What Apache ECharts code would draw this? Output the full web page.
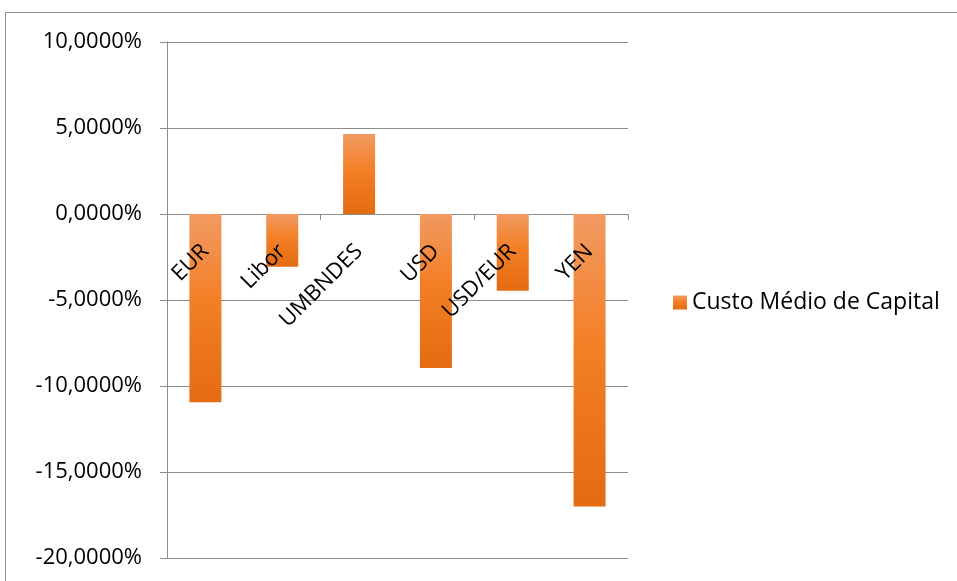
<!DOCTYPE html>
<html><head><meta charset="utf-8">
<script src="https://cdn.jsdelivr.net/npm/echarts@6/dist/echarts.min.js"></script>
<style>html,body{margin:0;padding:0;background:#fff}#c{width:957px;height:581px}</style>
</head><body><div id="c"></div>
<script>
const categories = ['EUR', 'Libor', 'UMBNDES', 'USD', 'USD/EUR', 'YEN'];
const seriesName = 'Custo Médio de Capital';
const values = [-10.95, -3.06, 4.65, -8.95, -4.46, -17.0];
const yMin = -20, yMax = 10, yStep = 5;

const FONT = 'Open Sans';
const chart = echarts.init(document.getElementById('c'));
chart.setOption({
  animation: false,
  backgroundColor: '#fff',
  graphic: [{ type: 'rect', shape: { x: 5.5, y: 12.5, width: 1000, height: 1000 }, style: { fill: 'none', stroke: '#8c8c8c', lineWidth: 1 }, silent: true }],
  grid: { left: 167, right: 329, top: 42, bottom: 23, containLabel: false, outerBoundsMode: 'none' },
  legend: {
    left: 668, top: 286, itemWidth: 14, itemHeight: 14, itemGap: 6,
    textStyle: { fontFamily: FONT, fontSize: 23, color: '#000' },
    data: [{ name: seriesName, icon: 'rect' }]
  },
  xAxis: {
    type: 'category', data: categories,
    axisLine: { onZero: true, lineStyle: { color: '#8c8c8c' } },
    axisTick: { show: true, length: 6, lineStyle: { color: '#8c8c8c' } },
    axisLabel: { show: false }
  },
  yAxis: {
    type: 'value', min: yMin, max: yMax, interval: yStep,
    axisLine: { show: true, lineStyle: { color: '#8c8c8c' } },
    axisTick: { show: true, length: 7, lineStyle: { color: '#8c8c8c' } },
    splitLine: { lineStyle: { color: '#8c8c8c' } },
    axisLabel: { margin: 25, fontFamily: FONT, fontSize: 22, color: '#000',
      formatter: v => v.toFixed(4).replace('.', ',') + '%' }
  },
  series: [{
    name: seriesName, type: 'bar', data: values, barWidth: 32,
    itemStyle: { color: new echarts.graphic.LinearGradient(0, 0, 0, 1, [
      { offset: 0, color: '#F19A62' }, { offset: 0.45, color: '#F47F26' }, { offset: 1, color: '#E46B12' }]) }
  }, {
    name: 'labels', type: 'custom', z: 10, silent: true,
    data: categories.map((c, i) => [i, 0]),
    renderItem: (params, api) => {
      const p = api.coord([api.value(0), 0]);
      return {
        type: 'text', x: p[0], y: p[1] + 34, rotation: Math.PI / 4,
        style: { text: categories[params.dataIndex], align: 'right', verticalAlign: 'middle',
          fontFamily: FONT, fontSize: 22, fill: '#000' }
      };
    }
  }]
});
</script></body></html>
